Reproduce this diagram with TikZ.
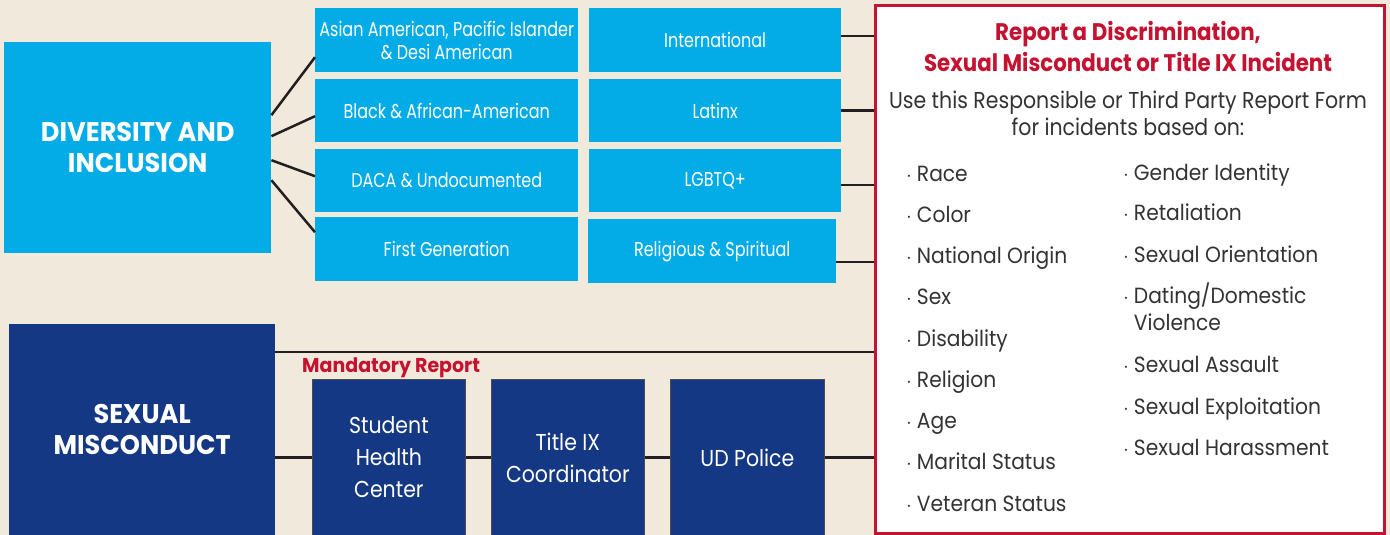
\documentclass[tikz,border=0pt]{standalone}
\usepackage{fontspec}
\setmainfont{Poppins}[FakeStretch=0.92]
\newfontfamily\cond{Poppins}[FakeStretch=0.8]
\newfontfamily\condh{Poppins}[FakeStretch=0.95]
\newfontfamily\condt{Poppins}[FakeStretch=0.89]
\definecolor{bgcol}{HTML}{F1EADC}
\definecolor{dcyan}{HTML}{03ACE6}
\definecolor{dnavy}{HTML}{143883}
\definecolor{crim}{HTML}{C41230}
\definecolor{lin}{HTML}{231F20}
\definecolor{txt}{HTML}{333333}
\begin{document}
\begin{tikzpicture}[x=1pt,y=-1pt,
  cyanbox/.style={fill=dcyan, text=white, anchor=north west, inner sep=0pt, align=center,
    font=\cond\fontsize{20}{23}\selectfont},
  bigbox/.style={anchor=north west, inner sep=0pt, align=center, text=white,
    font=\condh\bfseries\fontsize{27}{31}\selectfont},
  navybox/.style={fill=dnavy, draw=black!70, line width=0.8pt, text=white, anchor=north west,
    inner sep=0pt, align=center, minimum width=153, minimum height=156,
    font=\condt\fontsize{23}{32}\selectfont},
  conn/.style={draw=lin, line width=2.5pt},
  item/.style={anchor=base west, inner sep=0pt, text=txt, font=\fontsize{22}{27.5}\selectfont, align=left},
  ttl/.style={anchor=base, inner sep=0pt, text=crim, font=\condt\bfseries\fontsize{24}{28}\selectfont},
  sub/.style={anchor=base, inner sep=0pt, text=txt, font=\condt\fontsize{23}{28}\selectfont}
]
\fill[bgcol] (0,0) rectangle (1390,535);
\useasboundingbox (0,0) rectangle (1390,535);

% Diversity and inclusion
\node[bigbox, fill=dcyan, minimum width=267, minimum height=211] (div) at (4,42) {DIVERSITY AND\\INCLUSION};
\node[cyanbox, minimum width=263, minimum height=64] (asian) at (315,8) {Asian American, Pacific Islander\\\& Desi American};
\node[cyanbox, minimum width=263, minimum height=63] (black) at (315,79) {Black \& African-American};
\node[cyanbox, minimum width=263, minimum height=63] (daca) at (315,149) {DACA \& Undocumented};
\node[cyanbox, minimum width=263, minimum height=64] (first) at (315,217) {First Generation};
\node[cyanbox, minimum width=252, minimum height=64] (intl) at (589,8) {International};
\node[cyanbox, minimum width=252, minimum height=63] (latinx) at (589,79) {Latinx};
\node[cyanbox, minimum width=252, minimum height=63] (lgbtq) at (589,149) {LGBTQ+};
\node[cyanbox, minimum width=248, minimum height=64] (relig) at (588,219) {Religious \& Spiritual};

% report box
\node[draw=crim, line width=3pt, fill=white, anchor=north west, minimum width=509, minimum height=528, inner sep=0pt] (rep) at (874,4) {};

% Sexual misconduct
\node[bigbox, fill=dnavy, minimum width=266, minimum height=211] (sm) at (9,324) {SEXUAL\\MISCONDUCT};
\node[navybox] (shc) at (312,379) {Student\\Health\\Center};
\node[navybox] (tix) at (491,379) {Title IX\\Coordinator};
\node[navybox, minimum width=154] (udp) at (670,379) {UD Police};

% connectors diversity
\draw[conn] ([yshift=32.5pt]div.east) -- ([yshift=-17pt]asian.west);
\draw[conn] ([yshift=11.5pt]div.east) -- ([yshift=-5.5pt]black.west);
\draw[conn] ([yshift=-12.5pt]div.east) -- ([yshift=4.5pt]daca.west);
\draw[conn] ([yshift=-32.5pt]div.east) -- ([yshift=17pt]first.west);

\draw[conn] ([yshift=4pt]intl.east) coordinate (c1) -- (c1 -| rep.west);
\draw[conn] (latinx.east) coordinate (c2) -- (c2 -| rep.west);
\draw[conn] ([yshift=-4.5pt]lgbtq.east) coordinate (c3) -- (c3 -| rep.west);
\draw[conn] ([yshift=-11pt]relig.east) coordinate (c4) -- (c4 -| rep.west);

% connectors sexual misconduct
\draw[conn] ([yshift=-28pt]sm.north east) coordinate (c5) -- (c5 -| rep.west);
\draw[conn] (shc.west -| sm.east) -- (shc.west);
\draw[conn] (shc.east) -- (tix.west);
\draw[conn] (tix.east) -- (udp.west);
\draw[conn] (udp.east) -- (udp.east -| rep.west);

\node[anchor=base west, inner sep=0pt, text=crim, font=\condh\bfseries\fontsize{20}{22}\selectfont] (mand) at (302,372) {Mandatory Report};

% report text
\node[ttl] (t1) at (1128,41) {Report a Discrimination,};
\node[ttl] (t2) at (1128,71) {Sexual Misconduct or Title IX Incident};
\node[sub] (s1) at (1128,108) {Use this Responsible or Third Party Report Form};
\node[sub] (s2) at (1128,135) {for incidents based on:};

\foreach \t [count=\i] in {Race,Color,National Origin,Sex,Disability,Religion,Age,Marital Status,Veteran Status}
  \node[item] (l\i) at (906,{181+41.25*(\i-1)}) {$\cdot$\hspace{5pt}\t};

\node[item] (r1) at (1123,180) {$\cdot$\hspace{5pt}Gender Identity};
\node[item] (r2) at (1123,220) {$\cdot$\hspace{5pt}Retaliation};
\node[item] (r3) at (1123,262) {$\cdot$\hspace{5pt}Sexual Orientation};
\node[item] (r4) at (1123,303) {$\cdot$\hspace{5pt}\begin{tabular}[t]{@{}l@{}}Dating/Domestic\\Violence\end{tabular}};
\node[item] (r5) at (1123,372) {$\cdot$\hspace{5pt}Sexual Assault};
\node[item] (r6) at (1123,414) {$\cdot$\hspace{5pt}Sexual Exploitation};
\node[item] (r7) at (1123,455) {$\cdot$\hspace{5pt}Sexual Harassment};
\end{tikzpicture}
\end{document}
